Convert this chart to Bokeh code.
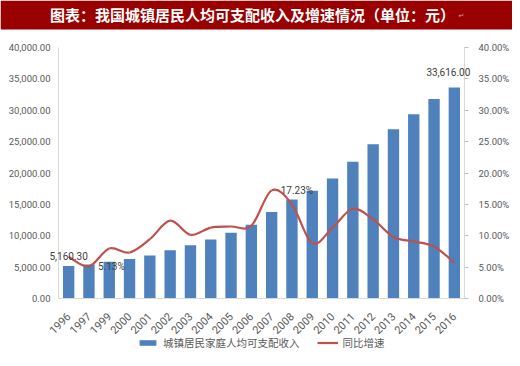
import math
from bokeh.plotting import figure
from bokeh.models import (Range1d, LinearAxis, FixedTicker, NumeralTickFormatter,
                          PrintfTickFormatter, Legend, LegendItem, Label)
from bokeh.core.properties import value
from bokeh.embed import file_html
from bokeh.resources import INLINE

title_text = "图表：我国城镇居民人均可支配收入及增速情况（单位：元）"
years = ["1996", "1997", "1999", "2000", "2001", "2002", "2003", "2004", "2005", "2006",
         "2007", "2008", "2009", "2010", "2011", "2012", "2013", "2014", "2015", "2016"]
income = [5160.30, 5425.10, 5854.00, 6280.00, 6859.60, 7702.80, 8472.20, 9421.60, 10493.00, 11759.50,
          13785.80, 15780.80, 17174.70, 19109.40, 21809.80, 24564.70, 26955.10, 29381.00, 31790.30, 33616.00]
growth = [6.65, 5.13, 7.97, 7.33, 9.45, 12.40, 10.15, 11.30, 11.47, 11.60,
          17.23, 15.00, 8.80, 11.30, 14.30, 12.60, 9.80, 9.10, 8.30, 5.70]
income_ticks = [0, 5000, 10000, 15000, 20000, 25000, 30000, 35000, 40000]
growth_ticks = [0, 5, 10, 15, 20, 25, 30, 35, 40]

W, H = 512, 350
BLUE = "#4F81BD"
RED = "#C0504D"
TXT = "#595959"
AXC = "#D9D9D9"
NUM_FONT = "Roboto"
CJK = "Noto Sans CJK SC"

# layout in canvas pixels (frame covers the whole canvas)
STEP = 20.3        # px per category
X0_PX = 68.15      # px of the first category centre
Y0_PX = 298        # px (from top) of the value-axes zero
YT_PX = 47         # px (from top) of the value-axes maximum
BAR_BOTTOM_PX = 29 # px (from top) of the title bar's lower edge
TITLE_CY_PX = 14   # px (from top) of the title text centre
TITLE_CX_PX = 252  # px of the title text centre
MARK_X_PX = 461    # px of the small paragraph mark after the title

n = len(years)
xs = list(range(n))
ymax_l, ymax_r = income_ticks[-1], growth_ticks[-1]
span_px = Y0_PX - YT_PX
x_min = -X0_PX / STEP
x_max = x_min + W / STEP
def yl(px):  # left-axis value at a canvas pixel row
    return ymax_l * (Y0_PX - px) / span_px

p = figure(width=W, height=H, x_range=Range1d(x_min, x_max),
           y_range=Range1d(yl(H), yl(0)),
           output_backend="svg", toolbar_location=None,
           min_border=0)
p.outline_line_color = None
p.grid.visible = False
p.extra_y_ranges = {"pct": Range1d(ymax_r * (Y0_PX - H) / span_px, ymax_r * Y0_PX / span_px)}

# title bar
p.quad(left=[x_min], right=[x_max], bottom=[yl(BAR_BOTTOM_PX)], top=[yl(0)],
       fill_color="#990000", line_color=None)
p.text(x=[x_min + TITLE_CX_PX / STEP], y=[yl(TITLE_CY_PX)], text=[title_text],
       text_color="white", text_font=value(CJK), text_font_size="15px",
       text_font_style="bold", text_align="center", text_baseline="middle")
p.text(x=[x_min + MARK_X_PX / STEP], y=[yl(TITLE_CY_PX + 1)], text=["↵"],
       text_color="#C8A0A0", text_font=value("DejaVu Sans"), text_font_size="7px",
       text_align="center", text_baseline="middle")

bars = p.vbar(x=xs, top=income, width=0.56, fill_color=BLUE, line_color=None)

# axis lines drawn at the category edges
p.segment(x0=[-0.5, -0.5, n - 0.5], y0=[0, 0, 0], x1=[-0.5, n - 0.5, n - 0.5],
          y1=[ymax_l, 0, ymax_l], line_color=AXC, line_width=1)

# smooth line (Catmull-Rom -> cubic Bezier, computed from the data points)
x0, y0, x1, y1, cx0, cy0, cx1, cy1 = [], [], [], [], [], [], [], []
for i in range(n - 1):
    pa = (xs[max(i - 1, 0)], growth[max(i - 1, 0)])
    pb = (xs[i], growth[i])
    pc = (xs[i + 1], growth[i + 1])
    pd = (xs[min(i + 2, n - 1)], growth[min(i + 2, n - 1)])
    x0.append(pb[0]); y0.append(pb[1]); x1.append(pc[0]); y1.append(pc[1])
    cx0.append(pb[0] + (pc[0] - pa[0]) / 6.0); cy0.append(pb[1] + (pc[1] - pa[1]) / 6.0)
    cx1.append(pc[0] - (pd[0] - pb[0]) / 6.0); cy1.append(pc[1] - (pd[1] - pb[1]) / 6.0)
line = p.bezier(x0=x0, y0=y0, x1=x1, y1=y1, cx0=cx0, cy0=cy0, cx1=cx1, cy1=cy1,
                line_color=RED, line_width=2.2, y_range_name="pct")

# axes (fixed at the category edges / zero line)
p.yaxis.fixed_location = -0.5
p.yaxis.ticker = FixedTicker(ticks=income_ticks)
p.yaxis.formatter = NumeralTickFormatter(format="0,0.00")
p.yaxis.axis_line_color = None
p.yaxis.major_tick_line_color = None
p.yaxis.major_tick_in = 0
p.yaxis.major_tick_out = 0
p.yaxis.minor_tick_line_color = None
p.yaxis.major_label_standoff = 8
p.yaxis.major_label_text_font = NUM_FONT
p.yaxis.major_label_text_font_size = "9.5px"
p.yaxis.major_label_text_color = TXT

ra = LinearAxis(y_range_name="pct", ticker=FixedTicker(ticks=growth_ticks),
                formatter=PrintfTickFormatter(format="%.2f%%"), fixed_location=n - 0.5)
ra.axis_line_color = None
ra.major_tick_line_color = "#BFBFBF"
ra.major_tick_in = 0
ra.major_tick_out = 4
ra.minor_tick_line_color = None
ra.major_label_standoff = 10
ra.major_label_text_font = NUM_FONT
ra.major_label_text_font_size = "9.5px"
ra.major_label_text_color = TXT
p.add_layout(ra, "right")

p.xaxis.fixed_location = 0
p.xaxis.ticker = FixedTicker(ticks=xs)
p.xaxis.major_label_overrides = {i: y for i, y in zip(xs, years)}
p.xaxis.major_label_orientation = math.pi / 4
p.xaxis.axis_line_color = None
p.xaxis.major_tick_line_color = None
p.xaxis.major_tick_in = 0
p.xaxis.major_tick_out = 0
p.xaxis.minor_tick_line_color = None
p.xaxis.major_label_standoff = 16
p.xaxis.major_label_text_font = NUM_FONT
p.xaxis.major_label_text_font_size = "11px"
p.xaxis.major_label_text_color = TXT

# data labels
lab_kw = dict(text_font=NUM_FONT, text_font_size="10px", text_color="#404040")
p.add_layout(Label(x=0, y=income[0], text=f"{income[0]:,.2f}", text_align="center",
                   text_baseline="bottom", y_offset=6, **lab_kw))
p.add_layout(Label(x=n - 1, y=income[-1], text=f"{income[-1]:,.2f}", text_align="center",
                   text_baseline="bottom", y_offset=12, x_offset=-6, **lab_kw))
p.add_layout(Label(x=1, y=growth[1], text=f"{growth[1]:.2f}%", text_align="left",
                   text_baseline="middle", x_offset=9, y_range_name="pct", **lab_kw))
p.add_layout(Label(x=10, y=growth[10], text=f"{growth[10]:.2f}%", text_align="left",
                   text_baseline="middle", x_offset=9, y_range_name="pct", **lab_kw))

legend = Legend(items=[LegendItem(label="城镇居民家庭人均可支配收入", renderers=[bars]),
                       LegendItem(label="同比增速", renderers=[line])],
                orientation="horizontal", location=(137, 0), border_line_color=None,
                background_fill_alpha=0, label_text_font=CJK, label_text_font_size="10.5px",
                label_text_color=TXT, glyph_width=21, glyph_height=7, label_standoff=5,
                spacing=17, padding=0, margin=0)
p.add_layout(legend)

open("out.html", "w").write(file_html(p, INLINE))
